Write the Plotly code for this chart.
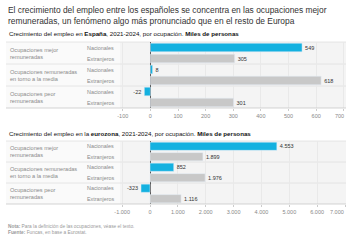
import plotly.graph_objects as go
from plotly.subplots import make_subplots

groups = ["Ocupaciones mejor<br>remuneradas",
          "Ocupaciones remuneradas<br>en torno a la media",
          "Ocupaciones peor<br>remuneradas"]
series = ["Nacionales", "Extranjeros"]
spain_nac = [549, 8, -22]
spain_ext = [305, 618, 301]
euro_nac = [4553, 852, -323]
euro_ext = [1899, 1976, 1116]
spain_ticks = [-100, 0, 100, 200, 300, 400, 500, 600, 700]
euro_ticks = [-1000, 0, 1000, 2000, 3000, 4000, 5000, 6000, 7000]

title_text = ("El crecimiento del empleo entre los españoles se concentra en las ocupaciones mejor<br>"
              "remuneradas, un fenómeno algo más pronunciado que en el resto de Europa")
sub1 = "Crecimiento del empleo en <b>España</b>, 2021-2024, por ocupación. <b>Miles de personas</b>"
sub2 = "Crecimiento del empleo en la <b>eurozona</b>, 2021-2024, por ocupación. <b>Miles de personas</b>"
note = "<b>Nota:</b> Para la definición de las ocupaciones, véase el texto."
source = "<b>Fuente:</b> Funcas, en base a Eurostat."

C_NAC = "#14b1e0"
C_EXT = "#c8c8c8"
FONT = "Liberation Sans, Arial, sans-serif"

W, H = 350, 240
ML, MR = 120, 4
PW = W - ML - MR


def px(x):
    return (x - ML) / PW


def py(y):
    return 1 - y / H


def fmt(v):
    return f"{v:,}".replace(",", ".")


fig = make_subplots(rows=2, cols=1)

cats = []
for gi in range(len(groups)):
    for s in series:
        cats.append(f"g{gi}|{s}")

panels = [
    (spain_nac, spain_ext, [-110, 708], spain_ticks, (108, 42), sub1, 34),
    (euro_nac, euro_ext, [-1077, 7035], euro_ticks, (204, 141), sub2, 133),
]

shapes = []
annotations = []

for pi, (nac, ext, rng, ticks, (ybot, ytop), sub, suby) in enumerate(panels):
    row = pi + 1
    ys_nac = [f"g{i}|Nacionales" for i in range(len(groups))]
    ys_ext = [f"g{i}|Extranjeros" for i in range(len(groups))]
    fig.add_trace(go.Bar(x=nac, y=ys_nac, orientation="h", marker_color=C_NAC,
                         text=[fmt(v) for v in nac], textposition="outside",
                         textfont=dict(size=5.5, color="#333"), cliponaxis=False,
                         showlegend=False), row=row, col=1)
    fig.add_trace(go.Bar(x=ext, y=ys_ext, orientation="h", marker_color=C_EXT,
                         text=[fmt(v) for v in ext], textposition="outside",
                         textfont=dict(size=5.5, color="#333"), cliponaxis=False,
                         showlegend=False), row=row, col=1)
    xa = "xaxis" if row == 1 else "xaxis2"
    ya = "yaxis" if row == 1 else "yaxis2"
    yref = "y" if row == 1 else "y2"
    ticktext = [fmt(t) for t in ticks]
    last = ticktext[-1]
    ticktext[-1] = ""
    fig.update_layout({
        xa: dict(domain=[0, 1], range=rng, tickvals=ticks, ticktext=ticktext,
                 showgrid=True, gridcolor="#e9e9e9", gridwidth=0.6,
                 zeroline=True, zerolinecolor="#555", zerolinewidth=1,
                 ticks="outside", ticklen=2, tickcolor="#ccc",
                 tickfont=dict(size=5.5, color="#888", family=FONT),
                 showline=False, fixedrange=True),
        ya: dict(domain=[py(ybot), py(ytop)], categoryorder="array",
                 categoryarray=cats, autorange="reversed",
                 showticklabels=False, showgrid=False, zeroline=False,
                 ticks="", fixedrange=True),
    })
    annotations.append(dict(xref="paper", yref="paper", x=px(346), y=py(ybot + 3),
                            text=last, showarrow=False, xanchor="right", yanchor="top",
                            font=dict(size=5.5, color="#888", family=FONT)))
    # panel backgrounds
    shapes.append(dict(type="rect", xref="paper", yref="paper", x0=px(6), x1=px(ML),
                       y0=py(ybot), y1=py(ytop), fillcolor="#fafafa", line_width=0, layer="below"))
    shapes.append(dict(type="rect", xref="paper", yref="paper", x0=0, x1=1,
                       y0=py(ybot), y1=py(ytop), fillcolor="#f4f4f4", line_width=0, layer="below"))
    # separators
    for k in range(len(groups) + 1):
        yy = ybot + (ytop - ybot) * k / len(groups)
        shapes.append(dict(type="line", xref="paper", yref="paper", x0=px(6), x1=1,
                           y0=py(yy), y1=py(yy),
                           line=dict(color="#c8c8c8" if k == 0 else "#e0e0e0", width=0.8),
                           layer="above" if k == 0 else "below"))
    # labels
    for gi, g in enumerate(groups):
        gh = (ybot - ytop) / len(groups)
        gc = ytop + gh * (gi + 0.5)
        annotations.append(dict(xref="paper", yref="paper", x=px(8), y=py(gc),
                                text=g, showarrow=False, xanchor="left", yanchor="middle",
                                align="left",
                                font=dict(size=5.6, color="#8a8a8a", family=FONT)))
        for s in series:
            annotations.append(dict(xref="paper", yref=yref, x=px(85), y=f"g{gi}|{s}",
                                    text=s, showarrow=False, xanchor="left", yanchor="middle",
                                    font=dict(size=5.4, color="#8a8a8a", family=FONT)))
    annotations.append(dict(xref="paper", yref="paper", x=px(7), y=py(suby),
                            text=sub, showarrow=False, xanchor="left", yanchor="middle",
                            font=dict(size=6.2, color="#111", family=FONT)))

annotations.append(dict(xref="paper", yref="paper", x=px(6), y=py(2.5),
                        text=title_text, showarrow=False, xanchor="left", yanchor="top",
                        align="left",
                        font=dict(size=8.4, color="#333", family=FONT)))
annotations.append(dict(xref="paper", yref="paper", x=px(6), y=py(226.5),
                        text=note, showarrow=False, xanchor="left", yanchor="middle",
                        font=dict(size=4.8, color="#9a9a9a", family=FONT)))
annotations.append(dict(xref="paper", yref="paper", x=px(6), y=py(232.5),
                        text=source, showarrow=False, xanchor="left", yanchor="middle",
                        font=dict(size=4.8, color="#9a9a9a", family=FONT)))

fig.update_layout(
    width=W, height=H,
    margin=dict(l=ML, r=MR, t=0, b=0),
    paper_bgcolor="white", plot_bgcolor="rgba(0,0,0,0)",
    bargap=0.22, barmode="overlay",
    font=dict(family=FONT),
    shapes=shapes, annotations=annotations,
    showlegend=False,
)

fig.write_html("out.html", config={"displayModeBar": False})
